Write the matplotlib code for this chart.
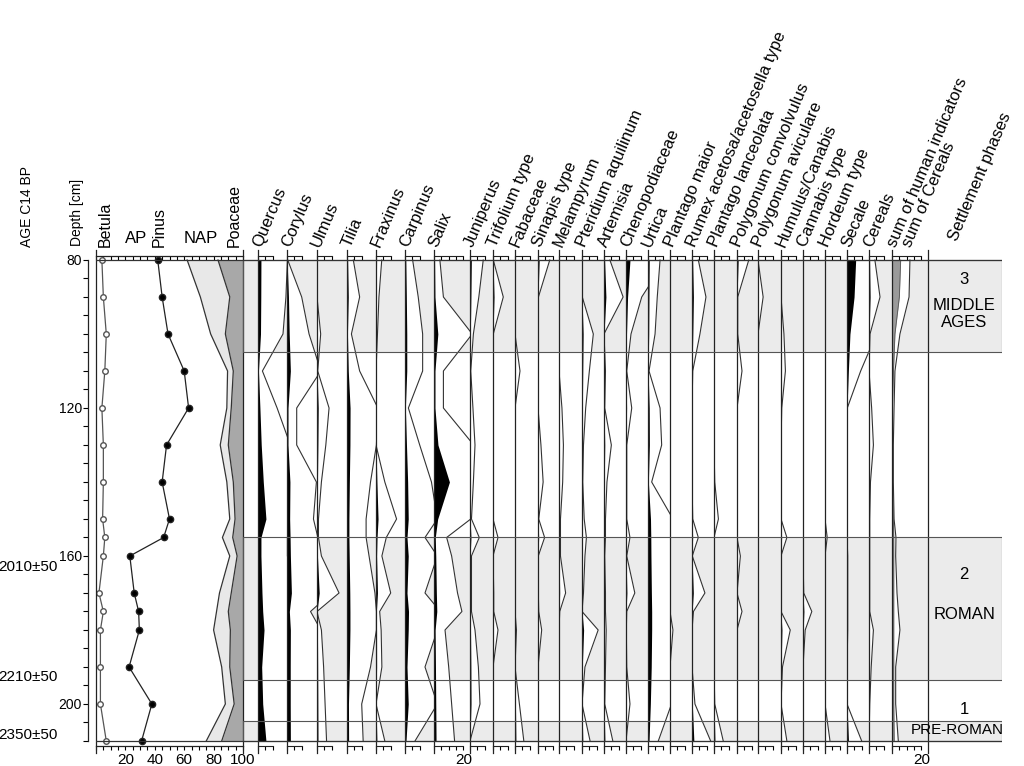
import matplotlib.pyplot as plt
from matplotlib.ticker import MultipleLocator
import numpy as np

plt.rcParams['font.family'] = ['Liberation Sans', 'DejaVu Sans']
plt.rcParams['axes.edgecolor'] = '#222222'
plt.rcParams['axes.linewidth'] = 0.9

# ---- data (depth in cm, values in %) ----
depth = [80, 90, 100, 110, 120, 130, 140, 150, 155, 160, 170, 175, 180, 190, 200, 210]

betula = [4, 5, 7, 6, 4, 5, 5, 4.5, 6, 5, 2, 5, 3, 3, 3, 7]
pinus = [42, 45, 49, 60, 63, 48, 45, 50, 46, 23, 26, 29, 29.5, 22.5, 38, 31]
ap_sum = [62, 71, 78, 89.5, 89, 84.5, 89, 91, 86, 91, 84, 82, 80, 85.5, 88, 75]
nap_sum = [83, 91, 88, 93.4, 92, 90, 93.4, 94.6, 93, 96, 92, 90, 91.4, 91, 94, 85.5]

quercus = [2.0, 1.9, 1.7, 0.3, 1.3, 2.2, 3.6, 5.4, 2.0, 2.0, 2.7, 3.2, 4.1, 2.5, 3.2, 5.4]
corylus = [0.05, 1.0, 1.5, 2.3, 0.66, 0.66, 2.0, 1.8, 2.1, 2.3, 3.0, 1.6, 2.3, 2.2, 2.2, 2.3]
ulmus = [0.0, 0.0, 0.25, 0.05, 0.82, 0.6, 0.3, 0.1, 0.1, 0.3, 1.5, 0.0, 0.3, 0.45, 0.55, 0.65]
tilia = [0.43, 0.86, 0.3, 0.86, 2.1, 2.0, 1.6, 1.3, 1.3, 1.5, 1.9, 2.0, 2.0, 1.6, 1.0, 1.1]
fraxinus = [0.39, 0.2, 0.1, 0.0, 0.0, 0.0, 0.6, 1.4, 0.7, 0.4, 1.0, 0.25, 0.35, 0.4, 0.0, 0.6]
carpinus = [0.52, 0.9, 1.2, 1.2, 0.23, 1.0, 1.8, 2.2, 1.36, 2.2, 1.36, 2.4, 2.2, 1.36, 2.2, 0.68]
salix = [0.4, 0.64, 2.6, 0.64, 0.64, 2.7, 10.5, 2.5, 0.86, 1.2, 1.6, 1.9, 0.75, 1.0, 1.2, 1.4]
juniperus = [0.9, 0.6, 0.23, 0.05, 0.2, 0.34, 0.23, 0.1, 0.63, 0.1, 0.1, 0.1, 0.34, 0.57, 0.68, 0.0]
trifolium = [0.02, 0.7, 0.02, 0, 0, 0, 0, 0, 0.34, 0, 0.05, 0.05, 0.34, 0, 0, 0]
fabaceae = [0, 0, 0, 0.34, 0, 0, 0, 0, 0, 0, 0, 0, 0.1, 0, 0.3, 0.6]
sinapis = [0.8, 0.03, 0, 0, 0, 0.2, 0.35, 0.05, 0.45, 0.02, 0.02, 0.05, 0.25, 0, 0, 0]
melampyrum = [0, 0, 0, 0, 0.2, 0.3, 0.25, 0.1, 0.1, 0.1, 0.45, 0.05, 0, 0, 0, 0]
pteridium = [0, 0.02, 0.77, 0.5, 0.25, 0.1, 0.05, 0.15, 0.3, 0.2, 0.1, 0.0, 1.1, 0.2, 0.0, 0.55]
artemisia = [0.4, 1.3, 0.0, 0.1, 0.05, 0.5, 0.2, 0.1, 0.1, 0.05, 0.1, 0.1, 0.15, 0.1, 0.05, 0.6]
chenopodiaceae = [2.7, 1.07, 0.34, 0.05, 0.39, 0.05, 0.05, 0.05, 0.27, 0.05, 0.6, 0.05, 0.02, 0.05, 0.27, 0.0]
urtica = [0.82, 0.63, 0.48, 0.07, 0.82, 0.93, 0.25, 1.7, 1.9, 2.0, 2.3, 2.5, 2.5, 2.2, 1.6, 0.7]
plantago_maior = [0, 0, 0, 0, 0, 0, 0, 0, 0, 0, 0, 0, 0.2, 0, 0, 0]
rumex = [0.43, 0.95, 0.54, 0.05, 0, 0, 0, 0.05, 0.43, 0.02, 0.88, 0.1, 0.0, 0.0, 0.2, 1.27]
plantago_lanc = [0, 0, 0, 0, 0, 0, 0.05, 0.3, 0, 0.02, 0, 0, 0, 0, 0.05, 0.63]
polygonum_conv = [0.8, 0.05, 0.05, 0.34, 0, 0, 0, 0, 0, 0.23, 0, 0.34, 0, 0, 0, 0]
polygonum_avic = [0, 0.35, 0, 0, 0, 0, 0, 0, 0, 0, 0, 0, 0, 0, 0, 0]
humulus = [0, 0, 0.2, 0.3, 0.05, 0, 0, 0, 0.4, 0, 0, 0, 0.63, 0.1, 0, 0.4]
cannabis = [0, 0, 0, 0, 0, 0, 0, 0, 0, 0, 0.05, 0.6, 0.15, 0, 0, 0]
hordeum = [0, 0, 0, 0, 0, 0, 0, 0, 0.15, 0, 0, 0, 0, 0, 0, 0.34]
secale = [5.9, 4.8, 2.0, 0.93, 0.02, 0, 0, 0, 0, 0.05, 0.05, 0.05, 0.05, 0, 0, 1.0]
cereals = [0.4, 0.75, 0.07, 0.0, 0.18, 0.3, 0.1, 0.05, 0.05, 0.05, 0.05, 0.05, 0.3, 0.15, 0.05, 0.0]
sum_human = [12.2, 11.6, 5.4, 2.0, 1.4, 0.9, 0.9, 1.4, 2.7, 2.5, 3.4, 4.3, 5.4, 2.5, 2.5, 4.3]
sum_cereals = [5.9, 5.0, 2.0, 1.0, 0.3, 0.3, 0.3, 1.0, 1.2, 1.2, 1.2, 1.2, 1.2, 1.2, 1.2, 1.5]

ages = ['2010±50', '2210±50', '2350±50']
age_depth = [163, 192.7, 208.4]

phase_bands = [(80, 105), (155, 193.5), (204.5, 210)]
phase_text = [('3', 85.4), ('MIDDLE', 92.2), ('AGES', 97), ('2', 165.1), ('ROMAN', 175.7), ('1', 201.4)]

taxa = [('Quercus', quercus), ('Corylus', corylus), ('Ulmus', ulmus), ('Tilia', tilia),
        ('Fraxinus', fraxinus), ('Carpinus', carpinus), ('Salix', salix),
        ('Juniperus', juniperus), ('Trifolium type', trifolium), ('Fabaceae', fabaceae),
        ('Sinapis type', sinapis), ('Melampyrum', melampyrum), ('Pteridium aquilinum', pteridium),
        ('Artemisia', artemisia), ('Chenopodiaceae', chenopodiaceae), ('Urtica', urtica),
        ('Plantago maior', plantago_maior), ('Rumex acetosa/acetosella type', rumex),
        ('Plantago lanceolata', plantago_lanc), ('Polygonum convolvulus', polygonum_conv),
        ('Polygonum aviculare', polygonum_avic), ('Humulus/Canabis', humulus),
        ('Cannabis type', cannabis), ('Hordeum type', hordeum), ('Secale', secale),
        ('Cereals', cereals)]

# ---- layout (pixels) ----
W, H = 1024, 766
col_left = [258, 287, 317, 347, 376, 405, 434, 470, 493, 515, 538, 559, 582, 604, 626,
            648, 670, 692, 714, 737, 758, 781, 803, 825, 847, 869, 892, 928]
TOP_PX, BOT_PX = 250, 753
PX_PER_PCT = 1.47
LINE = '#333333'
LABEL_ROT = 67
LABEL_FS = 12


def depth_at(ypx):
    return 80 + (ypx - 260) / 3.7


def frac_at(ypx):
    return (BOT_PX - ypx) / (BOT_PX - TOP_PX)


fig = plt.figure(figsize=(W / 100, H / 100), dpi=100)


def add_ax(x0, x1):
    ax = fig.add_axes([x0 / W, 1 - BOT_PX / H, (x1 - x0) / W, (BOT_PX - TOP_PX) / H])
    ax.set_ylim(depth_at(BOT_PX), depth_at(TOP_PX))
    ax.patch.set_alpha(0)
    ax.set_yticks([])
    return ax


def scale_bars(ax, maxval, labels=None):
    for s in ['top', 'right']:
        ax.spines[s].set_visible(False)
    ax.spines['bottom'].set_position(('axes', frac_at(746)))
    ax.spines['bottom'].set_bounds(0, maxval)
    ax.spines['bottom'].set_linewidth(0.8)
    ticks = list(range(0, maxval + 1, 5))
    ax.set_xticks(ticks)
    ax.set_xticklabels(labels if labels else [''] * len(ticks))
    ax.tick_params(axis='x', direction='out', length=3, width=0.8, pad=2, labelsize=11)
    sec = ax.secondary_xaxis(frac_at(256.5))
    sec.spines['top'].set_bounds(0, maxval)
    sec.spines['top'].set_linewidth(0.8)
    sec.set_xticks(ticks)
    sec.set_xticklabels([])
    sec.tick_params(axis='x', direction='in', length=3, width=0.8)


def column_label(xpx, ypx, text):
    fig.text(xpx / W, 1 - ypx / H, text, rotation=LABEL_ROT, rotation_mode='anchor',
             ha='left', va='bottom', fontsize=LABEL_FS)


# phase bands (background)
bg = add_ax(243, 1002)
bg.set_zorder(-1)
bg.axis('off')
for a, b in phase_bands:
    bg.axhspan(a, b, color='#ebebeb', lw=0)

# summary panel
ax0 = add_ax(96, 243)
ax0.set_xlim(0, 100)
ax0.fill_betweenx(depth, ap_sum, nap_sum, color='#e8e8e8', lw=0)
ax0.fill_betweenx(depth, nap_sum, 100, color='#a8a8a8', lw=0)
ax0.plot(ap_sum, depth, color=LINE, lw=0.9)
ax0.plot(nap_sum, depth, color=LINE, lw=0.9)
ax0.plot(betula, depth, '-o', color='#555555', mfc='white', ms=4, lw=0.9)
ax0.plot(pinus, depth, '-o', color='#222222', mfc='black', ms=4.5, lw=0.9)
ax0.spines['top'].set_visible(False)
ax0.spines['bottom'].set_position(('axes', frac_at(746)))
ax0.spines['bottom'].set_bounds(0, 100)
ax0.set_xticks([20, 40, 60, 80, 100])
ax0.xaxis.set_minor_locator(MultipleLocator(5))
ax0.tick_params(axis='x', which='both', direction='out', length=3, width=0.8, pad=2, labelsize=11)
sec0 = ax0.secondary_xaxis(frac_at(256.5))
sec0.spines['top'].set_bounds(0, 100)
sec0.set_xticks(range(0, 101, 5))
sec0.set_xticklabels([])
sec0.tick_params(axis='x', direction='in', length=3, width=0.8)

dax = ax0.secondary_yaxis(-8 / 147)
dax.spines['left'].set_bounds(80, 210)
dax.set_yticks([80, 120, 160, 200])
dax.yaxis.set_minor_locator(MultipleLocator(5))
dax.tick_params(axis='y', which='both', direction='out', length=3.5, width=0.8, pad=1, labelsize=10)

for lab, d in zip(ages, age_depth):
    ax0.text(-0.26, d, lab, transform=ax0.get_yaxis_transform(), ha='right', va='center', fontsize=11)

# taxa columns (black = value, outline = value x 10)
for i, (name, vals) in enumerate(taxa):
    x0, x1 = col_left[i], col_left[i + 1]
    ax = add_ax(x0, x1)
    ax.set_xlim(0, (x1 - x0) / PX_PER_PCT)
    v = np.array(vals, dtype=float)
    ax.fill_betweenx(depth, 0, v * 10, color='white', lw=0)
    ax.plot(v * 10, depth, color=LINE, lw=0.8)
    ax.fill_betweenx(depth, 0, v, color='black', lw=0)
    if name == 'Salix':
        scale_bars(ax, 20, ['', '', '', '', '20'])
    else:
        scale_bars(ax, 10)
    column_label(x0 + 6, 249, name)

# sums column
x0, x1 = col_left[-2], col_left[-1]
axs = add_ax(x0, x1)
axs.set_xlim(0, (x1 - x0) / PX_PER_PCT)
axs.fill_betweenx(depth, 0, sum_human, color='white', lw=0)
axs.fill_betweenx(depth, 0, sum_cereals, color='#9a9a9a', lw=0)
axs.plot(sum_human, depth, color=LINE, lw=0.8)
axs.plot(sum_cereals, depth, color='#555555', lw=0.6)
scale_bars(axs, 20, ['', '', '', '', '20'])
column_label(899, 249, 'sum of human indicators')
column_label(914, 249, 'sum of Cereals')

# settlement phases column
axp = add_ax(928, 1002)
axp.set_xlim(0, 1)
axp.set_xticks([])
for s in ['top', 'right', 'bottom']:
    axp.spines[s].set_visible(False)
for t, d in phase_text:
    axp.text(0.49, d, t, ha='center', va='center', fontsize=12)
axp.text(0.39, 207, 'PRE-ROMAN', ha='center', va='center', fontsize=11, clip_on=False)
column_label(960, 243, 'Settlement phases')

# overlay horizontal lines
ov = add_ax(96, 1002)
ov.set_zorder(10)
ov.axis('off')
ov.set_xlim(96, 1002)
ov.axhline(80, color=LINE, lw=0.9)
ov.axhline(210, color=LINE, lw=0.9)
for a, b in phase_bands:
    ov.fill_between([243, 1002], a, b, facecolor='none', edgecolor='#555555', lw=0.8)

# header labels for the summary panel
fig.text(27 / W, 1 - 247 / H, 'AGE C14 BP', rotation=90, ha='center', va='bottom', fontsize=10)
fig.text(77 / W, 1 - 246 / H, 'Depth [cm]', rotation=90, ha='center', va='bottom', fontsize=10)
fig.text(105 / W, 1 - 247 / H, 'Betula', rotation=90, ha='center', va='bottom', fontsize=11.5)
fig.text(159 / W, 1 - 247 / H, 'Pinus', rotation=90, ha='center', va='bottom', fontsize=11.5)
fig.text(234 / W, 1 - 247 / H, 'Poaceae', rotation=90, ha='center', va='bottom', fontsize=11.5)
fig.text(136 / W, 1 - 246 / H, 'AP', ha='center', va='bottom', fontsize=12)
fig.text(201 / W, 1 - 246 / H, 'NAP', ha='center', va='bottom', fontsize=12)

fig.savefig('out.png', dpi=100)
